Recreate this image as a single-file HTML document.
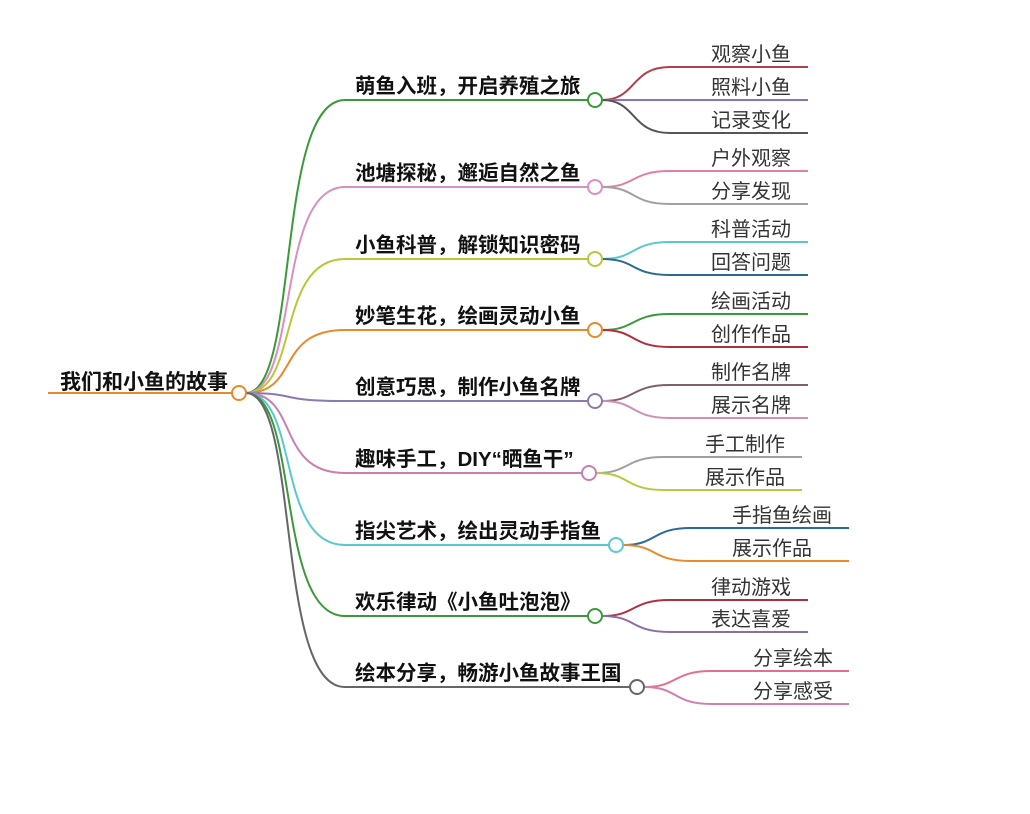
<!DOCTYPE html>
<html><head><meta charset="utf-8"><style>
html,body{margin:0;padding:0;background:#fff;width:1030px;height:814px;overflow:hidden}
svg{display:block}
text{font-family:"Liberation Sans","Noto Sans CJK SC",sans-serif}
.b{font-weight:bold;font-size:20.5px;fill:#111}
.l{font-size:20px;fill:#333}
</style></head><body>
<svg id="s" width="1030" height="814" viewBox="0 0 1030 814">
<g id="p" fill="none" stroke-width="2"></g>
<text class="b" x="60" y="389" style="font-size:21px">我们和小鱼的故事</text>
<text class="b" x="355" y="93">萌鱼入班，开启养殖之旅</text>
<text class="b" x="355" y="180">池塘探秘，邂逅自然之鱼</text>
<text class="b" x="355" y="252">小鱼科普，解锁知识密码</text>
<text class="b" x="355" y="323">妙笔生花，绘画灵动小鱼</text>
<text class="b" x="355" y="394">创意巧思，制作小鱼名牌</text>
<text class="b" x="355" y="466">趣味手工，DIY“晒鱼干”</text>
<text class="b" x="355" y="538">指尖艺术，绘出灵动手指鱼</text>
<text class="b" x="355" y="609">欢乐律动《小鱼吐泡泡》</text>
<text class="b" x="355" y="680">绘本分享，畅游小鱼故事王国</text>
<text class="l" x="711" y="61">观察小鱼</text>
<text class="l" x="711" y="94">照料小鱼</text>
<text class="l" x="711" y="127">记录变化</text>
<text class="l" x="711" y="165">户外观察</text>
<text class="l" x="711" y="198">分享发现</text>
<text class="l" x="711" y="236">科普活动</text>
<text class="l" x="711" y="269">回答问题</text>
<text class="l" x="711" y="308">绘画活动</text>
<text class="l" x="711" y="341">创作作品</text>
<text class="l" x="711" y="379">制作名牌</text>
<text class="l" x="711" y="412">展示名牌</text>
<text class="l" x="705" y="451">手工制作</text>
<text class="l" x="705" y="484">展示作品</text>
<text class="l" x="732" y="522">手指鱼绘画</text>
<text class="l" x="732" y="555">展示作品</text>
<text class="l" x="711" y="594">律动游戏</text>
<text class="l" x="711" y="626">表达喜爱</text>
<text class="l" x="753" y="665">分享绘本</text>
<text class="l" x="753" y="698">分享感受</text>
</svg>
<script>
var g=document.getElementById('p'),h='';
function P(d,c){h+='<path d="'+d+'" stroke="'+c+'"/>';}
function C(x,y,c){h+='<circle cx="'+x+'" cy="'+y+'" r="7" fill="#fff" stroke="'+c+'" stroke-width="2"/>';}
P('M48 393H232','#e88a2a');
var B=[[100,595,'#3a9a3a',[[67,'#b04050'],[100,'#9070b0'],[133,'#555']],808],
[187,595,'#d98fc0',[[171,'#e080a0'],[204,'#a0a0a0']],808],
[259,595,'#b8c83a',[[242,'#5ac8d0'],[275,'#2a6a8a']],808],
[330,595,'#e88a2a',[[314,'#3a9a3a'],[347,'#b03040']],808],
[401,595,'#8a7ab0',[[385,'#806070'],[418,'#d090b0']],808],
[473,589,'#c880b0',[[457,'#a0a0a0'],[490,'#b8c840']],802],
[545,616,'#5ac8d0',[[528,'#2a6a9a'],[561,'#e88a2a']],849],
[616,595,'#3a9a3a',[[600,'#b03040'],[632,'#8a70a0']],808],
[687,637,'#666',[[671,'#e07090'],[704,'#d080b0']],849]];
B.forEach(function(b){
 var y=b[0],cx=b[1];
 P('M246 393C300 393 275 '+y+' 345 '+y+'H'+(cx-7),b[2]);
 b[3].forEach(function(l){
  var sx=cx+7,ex=cx+75;
  P('M'+sx+' '+b[0]+'C'+(sx+35)+' '+b[0]+' '+(ex-40)+' '+l[0]+' '+ex+' '+l[0]+'H'+b[4],l[1]);
 });
});
B.forEach(function(b){C(b[1],b[0],b[2]);});
C(239,393,'#e88a2a');
g.innerHTML=h;
</script>
</body></html>
